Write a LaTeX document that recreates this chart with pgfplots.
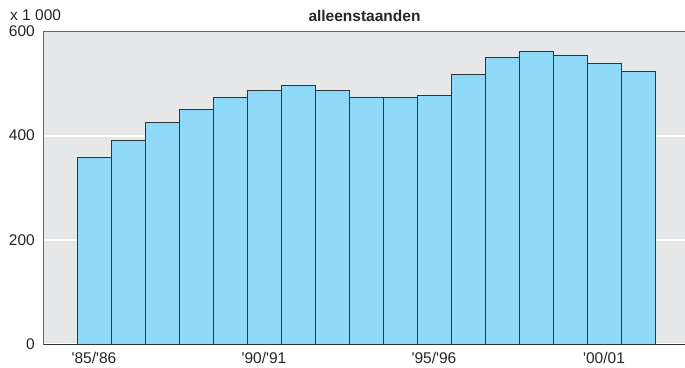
\documentclass[border=0pt]{standalone}
\usepackage{fontspec}
\setmainfont{Liberation Sans}
\usepackage{pgfplots}
\pgfplotsset{compat=1.18}
\definecolor{barblue}{RGB}{142,216,248}
\definecolor{bggray}{RGB}{230,231,232}
\definecolor{edgegray}{RGB}{50,50,55}
\begin{document}
\fontsize{15.5bp}{18bp}\selectfont
\begin{tikzpicture}
\begin{axis}[
  at={(0,0)}, anchor=south west,
  scale only axis, width=641bp, height=313.3bp,
  xmin=-1.4706, xmax=17.382, ymin=0, ymax=600,
  axis line style={draw=none},
  axis background/.style={fill=bggray},
  ytick={0,200,400,600}, xtick={0,5,10,15},
  xticklabels={\textquotesingle 85/\textquotesingle 86,\textquotesingle 90/\textquotesingle 91,\textquotesingle 95/\textquotesingle 96,\textquotesingle 00/01},
  major tick length=0pt,
  ymajorgrids, grid style={white, line width=2bp},
  tick label style={font=\fontsize{15.5bp}{18bp}\selectfont, inner sep=0pt, text=black!85},
  /pgf/number format/assume math mode=true,
  yticklabel shift=9bp, xticklabel shift=8bp,
  clip=false,
]
\addplot[ybar, bar width=1, bar shift=0pt, fill=barblue, draw=edgegray, line width=0.9bp]
  coordinates {(0,359) (1,391) (2,425) (3,450) (4,473) (5,486) (6,496) (7,486) (8,474) (9,473) (10,477) (11,517) (12,550) (13,561) (14,554) (15,538) (16,522)};
\draw[gray!80!black, line width=1bp] (rel axis cs:0,0) -- (rel axis cs:0,1) -- (rel axis cs:1,1);
\draw[black!80, line width=1bp] (rel axis cs:0,0) -- (rel axis cs:1,0);
\node[anchor=base, inner sep=0pt, text=black!85] at (rel axis cs:0.5,1) [yshift=9.7bp] {\fontsize{15.5bp}{18bp}\selectfont\bfseries alleenstaanden};
\node[anchor=base west, inner sep=0pt, text=black!85] at (rel axis cs:0,1) [xshift=-34bp, yshift=10.7bp] {x 1 000};
\end{axis}
\pgfresetboundingbox
\useasboundingbox (-44bp,-23bp) rectangle (641bp,344.5bp);
\end{tikzpicture}
\end{document}
